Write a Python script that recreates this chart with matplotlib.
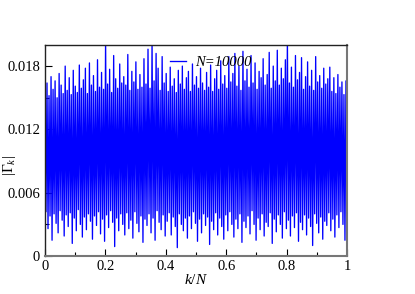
import numpy as np
import matplotlib
matplotlib.use("Agg")
import matplotlib.pyplot as plt
from matplotlib.ticker import MultipleLocator, FuncFormatter

# upper spikes of |Gamma_k| read left to right (units of 1e-3)
peaks_e3 = [
    15.6, 16.4, 15.2, 17.0, 15.8, 16.6, 15.0, 17.3, 16.2, 15.4,
    18.0, 15.7, 16.9, 15.3, 17.6, 16.1, 15.5, 18.1, 15.9, 16.7,
    17.8, 15.4, 18.3, 16.2, 17.1, 15.6, 18.6, 16.0, 17.4, 15.8,
    20.5, 16.3, 17.7, 15.5, 19.0, 16.8, 15.9, 18.2, 16.4, 17.0,
    16.2, 19.1, 15.7, 17.5, 16.5, 18.4, 15.8, 17.2, 16.0, 18.7,
    16.3, 19.6, 15.9, 20.4, 16.6, 19.2, 17.8, 15.7, 18.9, 16.4,
    17.3, 15.6, 17.9, 16.1, 16.8, 15.5, 17.6, 16.3, 18.0, 15.8,
    16.9, 17.5, 15.6, 18.2, 16.2, 17.0, 15.9, 17.8, 16.4, 15.7,
    17.4, 16.0, 18.1, 15.6, 16.8, 17.6, 15.8, 18.5, 16.3, 17.1,
    15.9, 18.9, 16.5, 17.3, 19.2, 16.1, 18.0, 15.7, 19.4, 16.6,
    17.7, 16.0, 19.0, 16.4, 18.3, 15.8, 17.5, 16.9, 18.7, 16.2,
    17.2, 19.3, 15.9, 18.0, 16.6, 19.5, 16.2, 17.8, 16.8, 18.6,
    20.6, 16.4, 17.9, 16.0, 19.0, 16.7, 17.4, 18.8, 15.8, 17.0,
    18.4, 16.1, 17.6, 15.7, 18.9, 16.5, 17.1, 15.9, 17.8, 16.3,
    16.8, 17.9, 15.6, 16.9, 15.4, 17.2, 16.0, 16.5, 15.3, 16.6,
]

# lower spikes of |Gamma_k| read left to right (units of 1e-3)
troughs_e3 = [
    4.2, 2.6, 3.8, 1.5, 4.0, 3.1, 2.2, 4.3, 3.4, 1.9,
    3.9, 2.8, 4.1, 1.2, 3.6, 2.4, 4.4, 3.0, 1.8, 3.7,
    2.5, 4.0, 3.3, 1.6, 3.8, 2.9, 4.2, 2.1, 3.5, 1.4,
    3.9, 2.7, 4.3, 3.2, 0.9, 3.6, 2.4, 4.0, 3.0, 2.0,
    4.1, 2.6, 3.4, 1.7, 4.2, 3.1, 2.3, 3.8, 1.3, 3.5,
    2.9, 4.0, 2.2, 3.6, 1.5, 4.3, 3.2, 2.5, 3.9, 1.9,
    3.3, 4.1, 2.0, 3.7, 2.8, 0.8, 4.0, 3.0, 2.4, 3.6,
    1.7, 3.8, 2.6, 4.2, 3.1, 1.4, 3.5, 2.2, 4.0, 2.9,
    3.7, 1.1, 3.3, 2.5, 4.1, 2.0, 3.6, 2.8, 1.6, 3.9,
    2.4, 4.2, 3.0, 1.8, 3.5, 2.6, 4.0, 1.3, 3.3, 2.7,
    3.8, 2.1, 4.3, 3.0, 1.5, 3.6, 2.5, 4.0, 1.9, 3.2,
    2.8, 4.1, 1.2, 3.5, 2.3, 3.9, 3.0, 1.7, 4.2, 2.6,
    3.4, 1.9, 3.8, 2.7, 4.1, 1.4, 3.2, 2.5, 3.9, 2.0,
    3.6, 2.8, 1.0, 4.0, 3.1, 2.2, 3.7, 1.6, 3.3, 2.9,
    4.1, 2.4, 3.5, 1.8, 3.9, 2.7, 4.2, 3.0, 1.5, 3.6,
]

N = 10000
legend_label = "N=10000"

plt.rcParams["font.family"] = ["Liberation Serif", "DejaVu Serif"]
plt.rcParams["mathtext.fontset"] = "custom"
plt.rcParams["mathtext.rm"] = "Liberation Serif"
plt.rcParams["mathtext.it"] = "Liberation Serif:italic"
plt.rcParams["font.size"] = 10

# alternate peak / trough to get the dense oscillating trace
gamma = np.empty(len(peaks_e3) * 2)
gamma[0::2] = np.array(peaks_e3) * 1e-3
gamma[1::2] = np.array(troughs_e3) * 1e-3
k_over_n = np.linspace(0, 1, len(gamma))

fig = plt.figure(figsize=(4.15, 2.94), dpi=100)
ax = fig.add_axes([0.1084, 0.129, 0.7277, 0.718])
ax.plot(k_over_n, gamma, color="blue", lw=0.95, label=legend_label)

ax.set_xlim(0, 1)
ax.set_ylim(0, 0.02)
ax.xaxis.set_major_locator(MultipleLocator(0.2))
ax.xaxis.set_minor_locator(MultipleLocator(0.1))
ax.yaxis.set_major_locator(MultipleLocator(0.006))
ax.yaxis.set_minor_locator(MultipleLocator(0.003))

def fmt(v, pos):
    if abs(v) < 1e-12:
        return "0"
    s = ("%.3f" % v).rstrip("0").rstrip(".")
    return s

ax.xaxis.set_major_formatter(FuncFormatter(fmt))
ax.yaxis.set_major_formatter(FuncFormatter(fmt))
ax.tick_params(which="major", direction="in", length=5, width=0.8, labelsize=10.5)
ax.tick_params(which="minor", direction="in", length=3, width=0.8)
ax.tick_params(axis="x", pad=3)

ax.set_xlabel(r"$k/N$", fontsize=11, labelpad=0)
ax.set_ylabel(r"$|\Gamma_k|$", fontsize=11)
ax.yaxis.set_label_coords(-0.088, 0.43)

for side in ["top", "left"]:
    ax.spines[side].set_color("#222222")
    ax.spines[side].set_linewidth(1.0)
for side in ["right", "bottom"]:
    ax.spines[side].set_color("#777777")
    ax.spines[side].set_linewidth(1.5)

ax.legend(loc="upper left", bbox_to_anchor=(0.37, 1.01), frameon=False,
          handlelength=1.1, handletextpad=0.6,
          prop={"style": "italic", "size": 10.5})

fig.savefig("out.png", dpi=100)
